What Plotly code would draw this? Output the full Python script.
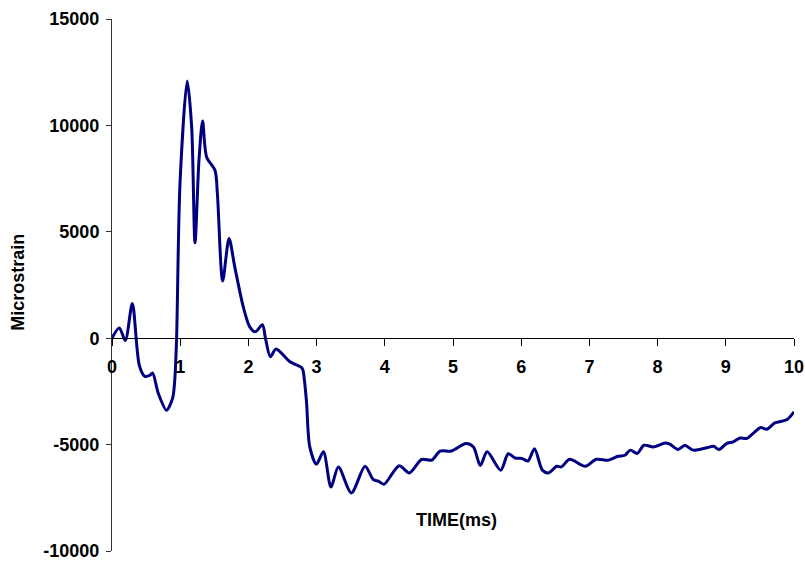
import plotly.graph_objects as go

time_ms = [0.0, 0.107, 0.195, 0.298, 0.40, 0.48, 0.557, 0.595, 0.68, 0.80, 0.888, 0.92, 0.947,
           0.997, 1.103, 1.168, 1.217, 1.275, 1.328, 1.387, 1.51, 1.545, 1.623, 1.716, 1.80,
           1.925, 2.02, 2.10, 2.205, 2.25, 2.322, 2.405, 2.61, 2.78, 2.80, 2.85, 2.90, 2.998,
           3.10, 3.21, 3.32, 3.51, 3.71, 3.83, 3.905, 3.99, 4.21, 4.36, 4.54, 4.69, 4.81, 4.98,
           5.19, 5.30, 5.40, 5.50, 5.70, 5.81, 5.91, 6.01, 6.10, 6.195, 6.31, 6.40, 6.52, 6.59,
           6.71, 6.94, 7.10, 7.28, 7.42, 7.52, 7.60, 7.70, 7.80, 7.94, 8.11, 8.18, 8.30, 8.40,
           8.52, 8.72, 8.82, 8.90, 9.01, 9.11, 9.21, 9.31, 9.41, 9.51, 9.60, 9.72, 9.82, 9.90, 10.0]
microstrain = [0, 485, -110, 1630, -1270, -1790, -1740, -1630, -2600, -3380, -2830, -1970, 0,
               7270, 12090, 9930, 4480, 8360, 10210, 8520, 7890, 6800, 2690, 4680, 3350,
               1470, 530, 300, 630, 0, -870, -510, -1110, -1380, -1500, -2910, -5110, -5920,
               -5340, -6990, -6050, -7270, -6020, -6640, -6720, -6860, -5990, -6330, -5700, -5730, -5310, -5300,
               -4950, -5110, -5980, -5340, -6200, -5430, -5630, -5650, -5770, -5190, -6200, -6330, -6020, -6050,
               -5690, -6020, -5690, -5730, -5550, -5500, -5260, -5420, -5030, -5110, -4920, -4980, -5230, -5030,
               -5260, -5150, -5080, -5230, -4950, -4870, -4690, -4710, -4450, -4200, -4280, -3980, -3900, -3820, -3460]

x_ticks = list(range(0, 11))
y_ticks = [-10000, -5000, 0, 5000, 10000, 15000]

FONT = "Liberation Sans"
FS = 18

fig = go.Figure()
fig.add_trace(go.Scatter(
    x=time_ms, y=microstrain, mode="lines",
    line=dict(color="#000080", width=3, shape="spline", smoothing=0.8),
    showlegend=False, hoverinfo="skip",
))

fig.update_layout(
    width=805, height=563,
    margin=dict(l=112, r=11, t=19, b=12),
    paper_bgcolor="white", plot_bgcolor="white",
    font=dict(family=FONT, size=FS, color="black", weight="bold"),
    xaxis=dict(
        range=[0, 10], tickvals=x_ticks, ticktext=[str(v) for v in x_ticks],
        showgrid=False, zeroline=False, showline=True, linecolor="black", linewidth=1,
        ticks="outside", ticklen=7, tickcolor="black", tickwidth=1,
        anchor="free", position=0.4, automargin=False,
        tickfont=dict(family=FONT, size=FS, color="black", weight="bold"),
        ticklabelstandoff=5,
    ),
    yaxis=dict(
        range=[-10000, 15000], tickvals=y_ticks, ticktext=[str(v) for v in y_ticks],
        showgrid=False, zeroline=False, showline=True, linecolor="#333333", linewidth=1,
        ticks="outside", ticklen=5, tickcolor="#333333", tickwidth=1, automargin=False,
        tickfont=dict(family=FONT, size=FS, color="black", weight="bold"),
        ticklabelstandoff=3,
    ),
    annotations=[
        dict(text="TIME(ms)", x=5.05, y=-8550, xref="x", yref="y", showarrow=False,
             xanchor="center", yanchor="middle",
             font=dict(family=FONT, size=FS, color="black", weight="bold")),
        dict(text="Microstrain", x=-0.138, y=0.506, xref="paper", yref="paper", showarrow=False,
             textangle=-90, xanchor="center", yanchor="middle",
             font=dict(family=FONT, size=FS, color="black", weight="bold")),
    ],
)

fig.write_html("out.html")
